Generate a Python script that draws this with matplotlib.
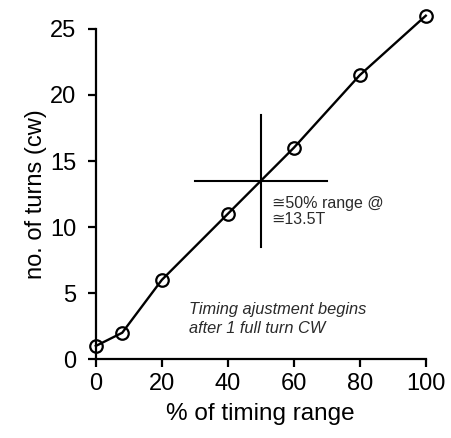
import matplotlib
matplotlib.use('Agg')
import matplotlib.pyplot as plt

# data
pct_range = [0, 8, 20, 40, 60, 80, 100]
turns_cw = [1, 2, 6, 11, 16, 21.5, 26]

mid_x = 50
mid_y = 13.5
cross_dx = 20
cross_dy = 5

x_ticks = [0, 20, 40, 60, 80, 100]
y_ticks = [0, 5, 10, 15, 20, 25]

plt.rcParams['font.family'] = ['Liberation Sans', 'DejaVu Sans']

fig = plt.figure(figsize=(4.52, 4.38), dpi=100)
ax = fig.add_axes([0.212, 0.180, 0.730, 0.754])

ax.plot(pct_range, turns_cw, color='black', linewidth=1.7, marker='o',
        markersize=9, markerfacecolor='none', markeredgewidth=1.6,
        markeredgecolor='black', clip_on=False, zorder=3)

# crosshair at 50% of range
ax.plot([mid_x - cross_dx, mid_x + cross_dx], [mid_y, mid_y],
        color='black', linewidth=1.5, clip_on=False)
ax.plot([mid_x, mid_x], [mid_y - cross_dy, mid_y + cross_dy],
        color='black', linewidth=1.5, clip_on=False)

ax.text(53.3, 12.35, '\u224550% range @\n\u224513.5T', fontsize=11.5,
        ha='left', va='top', color='#2a2a2a', linespacing=1.1)
ax.text(28.3, 4.35, 'Timing ajustment begins\nafter 1 full turn CW', fontsize=11.8,
        style='italic', ha='left', va='top', color='#2a2a2a', linespacing=1.35)

ax.set_xlim(0, 100)
ax.set_ylim(0, 25)
ax.set_xticks(x_ticks)
ax.set_yticks(y_ticks)
ax.spines['top'].set_visible(False)
ax.spines['right'].set_visible(False)
ax.spines['left'].set_linewidth(1.6)
ax.spines['bottom'].set_linewidth(1.6)
ax.tick_params(axis='both', direction='out', length=6, width=1.6, labelsize=17)
ax.tick_params(axis='x', pad=4)
ax.tick_params(axis='y', pad=8)

ax.set_xlabel('% of timing range', fontsize=17.5, labelpad=6)
ax.set_ylabel('no. of turns (cw)', fontsize=17, labelpad=2)

fig.savefig('out.png', dpi=100)
